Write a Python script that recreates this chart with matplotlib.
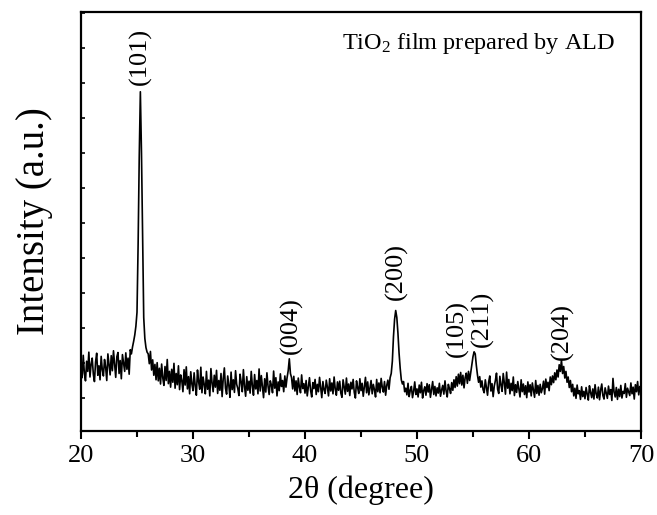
import numpy as np
import matplotlib
matplotlib.use('Agg')
import matplotlib.pyplot as plt

plt.rcParams['font.family'] = ['Liberation Serif', 'DejaVu Serif']
plt.rcParams['mathtext.fontset'] = 'custom'
plt.rcParams['mathtext.rm'] = 'Liberation Serif'
plt.rcParams['mathtext.it'] = 'Liberation Serif:italic'

# XRD scan, 20-70 deg in 0.1 deg steps (one row per degree)
two_theta_start = 20.0
two_theta_step = 0.1
intensity = [
    190, 158, 222, 171, 149, 205, 176, 231, 160, 196,   # 20
    214, 168, 147, 203, 228, 165, 192, 152, 219, 181,   # 21
    163, 210, 188, 150, 226, 197, 166, 221, 178, 235,   # 22
    196, 159, 218, 230, 170, 207, 155, 224, 200, 176,   # 23
    229, 182, 214, 168, 238, 226, 246, 262, 280, 305,   # 24
    345, 540, 790, 975, 800, 560, 330, 270, 244, 231,   # 25
    226, 198, 233, 180, 209, 165, 196, 152, 201, 149,   # 26
    185, 140, 197, 158, 136, 190, 150, 210, 141, 176,   # 27
    131, 182, 145, 199, 128, 170, 138, 192, 124, 166,   # 28
    150, 118, 181, 137, 189, 126, 161, 112, 175, 140,   # 29
    121, 172, 134, 108, 180, 147, 125, 188, 115, 160,   # 30
    139, 112, 176, 125, 151, 106, 184, 144, 118, 165,   # 31
    131, 179, 113, 150, 122, 170, 104, 156, 186, 128,   # 32
    111, 163, 136, 102, 174, 124, 152, 116, 178, 139,   # 33
    127, 107, 168, 146, 118, 181, 133, 105, 161, 122,   # 34
    148, 114, 176, 135, 108, 167, 126, 150, 112, 183,   # 35
    120, 164, 132, 101, 155, 117, 172, 134, 110, 149,   # 36
    137, 115, 177, 128, 158, 106, 146, 121, 169, 133,   # 37
    150, 118, 163, 131, 158, 178, 212, 170, 158, 126,   # 38
    162, 120, 149, 110, 157, 131, 115, 166, 127, 141,   # 39
    114, 150, 106, 133, 158, 122, 103, 144, 127, 153,   # 40
    110, 139, 118, 159, 129, 101, 147, 124, 113, 151,   # 41
    131, 106, 155, 120, 143, 112, 160, 126, 108, 146,   # 42
    122, 148, 114, 102, 152, 132, 111, 157, 119, 140,   # 43
    107, 145, 126, 153, 116, 100, 149, 130, 113, 155,   # 44
    121, 142, 105, 133, 159, 115, 146, 109, 128, 150,   # 45
    112, 139, 124, 103, 153, 118, 143, 115, 156, 131,   # 46
    117, 147, 108, 136, 151, 125, 158, 170, 205, 275,   # 47
    325, 350, 330, 285, 228, 185, 152, 140, 147, 118,   # 48
    128, 109, 142, 104, 122, 133, 101, 119, 146, 110,   # 49
    126, 103, 137, 115, 145, 100, 121, 132, 108, 141,   # 50
    117, 138, 102, 124, 147, 110, 133, 106, 129, 114,   # 51
    142, 105, 123, 136, 111, 149, 120, 103, 139, 127,   # 52
    113, 144, 122, 152, 130, 161, 134, 168, 141, 173,   # 53
    137, 165, 129, 158, 171, 142, 176, 150, 172, 195,   # 54
    218, 232, 226, 193, 166, 145, 161, 131, 149, 124,   # 55
    115, 152, 130, 108, 146, 163, 120, 141, 104, 134,   # 56
    150, 171, 125, 113, 162, 137, 119, 170, 143, 111,   # 57
    174, 128, 153, 112, 142, 121, 160, 107, 138, 116,   # 58
    147, 124, 103, 152, 118, 140, 110, 135, 101, 146,   # 59
    117, 138, 106, 143, 122, 102, 150, 113, 136, 108,   # 60
    139, 115, 127, 148, 111, 154, 130, 145, 121, 160,   # 61
    138, 163, 144, 172, 152, 180, 160, 195, 176, 208,   # 62
    170, 190, 157, 176, 145, 160, 130, 150, 118, 139,   # 63
    106, 128, 99, 137, 112, 121, 96, 132, 104, 119,     # 64
    98, 130, 111, 94, 135, 116, 101, 126, 97, 138,      # 65
    112, 100, 131, 95, 123, 140, 107, 97, 129, 114,     # 66
    99, 134, 110, 124, 93, 156, 117, 103, 130, 96,      # 67
    125, 104, 136, 100, 119, 113, 141, 102, 128, 118,   # 68
    107, 143, 112, 131, 97, 138, 118, 147, 109, 133,    # 69
    124,                                                # 70
]

# anatase reflections and where their labels sit
peak_labels = ['(101)', '(004)', '(200)', '(105)', '(211)', '(204)']
label_x = [25.27, 38.75, 48.2, 53.57, 55.8, 62.95]
label_y = [994, 226, 380, 217, 246, 209]

two_theta = two_theta_start + two_theta_step * np.arange(len(intensity))

fig = plt.figure(figsize=(6.57, 5.15), dpi=100)
ax = fig.add_axes([0.1233, 0.1631, 0.8523, 0.8136])

ax.plot(two_theta, intensity, color='black', lw=1.2)

for lab, x, y in zip(peak_labels, label_x, label_y):
    ax.text(x, y, lab, rotation=90, ha='center', va='bottom', fontsize=19)

ax.text(0.954, 0.912, 'TiO$_2$ film prepared by ALD', transform=ax.transAxes,
        ha='right', va='baseline', fontsize=17.5)

ax.set_xlim(20, 70)
ax.set_ylim(5.7, 1203)
ax.set_xticks(np.arange(20, 71, 10))
ax.set_xticks(np.arange(25, 70, 10), minor=True)
ax.set_yticks(np.arange(100, 1201, 100))
ax.set_yticklabels([])

ax.tick_params(axis='x', which='major', direction='out', length=6, width=1.5,
               labelsize=19, pad=4)
ax.tick_params(axis='x', which='minor', direction='out', length=4, width=1.5)
ax.tick_params(axis='y', which='major', direction='in', length=3, width=1.2)
for s in ax.spines.values():
    s.set_linewidth(1.6)

ax.set_xlabel('2θ (degree)', fontsize=23, labelpad=6)
ax.set_ylabel('Intensity (a.u.)', fontsize=28, labelpad=17)

fig.savefig('out.png', dpi=100)
